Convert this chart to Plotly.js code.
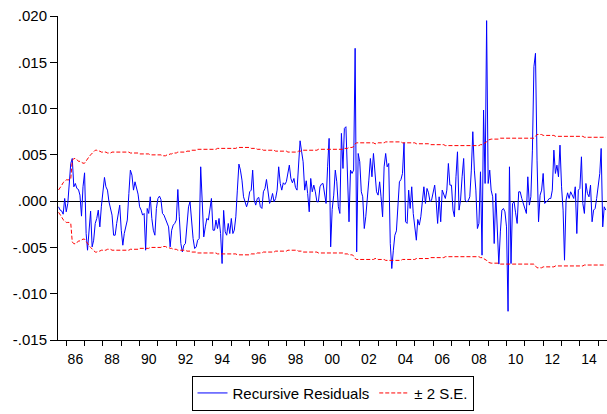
<!DOCTYPE html>
<html><head><meta charset="utf-8">
<script src="https://cdn.plot.ly/plotly-3.0.1.min.js"></script>
<style>html,body{margin:0;padding:0;background:#fff}#chart{width:607px;height:414px}</style>
</head><body><div id="chart"></div><script>
// Monthly observations starting 1985M08
const startYear = 1985, startMonth = 8;

const resid = [
-0.00061,-0.00097,-0.00105,-0.00141,0.00029,-0.00115,-0.00025,0.00191,0.00407,0.00461,
0.00155,0.00191,0.00137,0.00126,0.00065,-0.00162,0.00155,0.00306,-0.00350,-0.00530,
-0.00314,-0.00108,-0.00494,-0.00422,-0.00241,-0.00187,-0.00097,-0.00278,-0.00061,0.00119,
0.00256,0.00155,0.00119,-0.00007,-0.00079,-0.00151,-0.00368,-0.00368,-0.00241,-0.00133,
-0.00043,-0.00314,-0.00476,-0.00350,-0.00259,-0.00205,0.00083,0.00335,0.00281,0.00119,
0.00209,0.00137,0.00076,-0.00061,-0.00097,-0.00151,-0.00133,-0.00530,-0.00079,-0.00133,
0.00047,-0.00187,-0.00314,-0.00368,-0.00079,0.00029,0.00054,0.00018,-0.00133,-0.00151,
-0.00198,-0.00223,-0.00278,-0.00494,-0.00314,-0.00259,-0.00241,-0.00205,0.00126,-0.00169,
-0.00458,-0.00548,-0.00476,-0.00458,-0.00278,-0.00061,-0.00007,-0.00223,-0.00404,-0.00512,
-0.00494,-0.00422,-0.00404,0.00371,-0.00133,-0.00386,-0.00278,-0.00187,-0.00205,-0.00079,
0.00029,-0.00314,-0.00314,-0.00205,-0.00296,-0.00187,-0.00350,-0.00674,-0.00100,-0.00332,
-0.00368,-0.00241,-0.00350,-0.00187,-0.00350,-0.00314,-0.00169,0.00119,0.00400,0.00335,
0.00227,0.00047,-0.00007,-0.00061,-0.00007,0.00101,0.00119,0.00335,0.00011,-0.00043,
0.00029,0.00040,-0.00061,-0.00079,0.00101,0.00137,0.00234,0.00119,-0.00025,0.00011,
0.00083,-0.00007,0.00029,0.00119,0.00371,0.00191,0.00119,0.00198,0.00180,0.00210,
0.00299,0.00389,0.00245,0.00198,0.00245,0.00148,0.00119,0.00371,0.00652,0.00533,
0.00425,0.00119,0.00220,0.00083,-0.00115,0.00245,0.00101,0.00173,0.00101,-0.00007,
-0.00007,0.00155,0.00184,0.00191,0.00090,-0.00025,0.00371,0.00678,-0.00494,-0.00090,
0.00065,0.00335,0.00209,-0.00061,-0.00133,0.00732,0.00353,0.00786,0.00804,0.00263,
-0.00223,0.00335,0.00299,0.00335,0.01651,-0.00548,0.00515,0.00425,0.00101,0.00047,
-0.00296,-0.00169,-0.00007,0.00227,0.00461,0.00263,0.00515,0.00335,0.00101,0.00065,
0.00209,0.00047,-0.00169,0.00371,0.00515,0.00371,0.00407,-0.00458,-0.00728,-0.00530,
-0.00368,-0.00321,-0.00097,0.00209,0.00234,0.00299,0.00631,-0.00223,-0.00241,0.00119,
-0.00079,0.00155,-0.00133,-0.00314,-0.00422,-0.00198,-0.00259,-0.00169,0.00047,0.00155,
-0.00025,0.00137,0.00090,-0.00007,0.00011,0.00083,0.00173,0.00011,-0.00241,0.00047,
-0.00223,0.00119,0.00083,0.00029,0.00119,0.00407,0.00173,0.00173,-0.00097,-0.00169,
0.00263,0.00533,-0.00097,0.00011,0.00263,0.00461,0.00011,-0.00007,0.00004,0.00047,
0.00335,0.00750,0.00335,0.00119,-0.00296,-0.00241,0.00317,-0.00584,0.00984,0.00191,
0.01950,0.00191,0.00335,0.00119,0.00047,-0.00458,0.00083,-0.00241,-0.00680,-0.00332,
-0.00097,-0.00079,-0.00115,-0.00278,-0.01190,0.00371,-0.00674,-0.00025,-0.00007,-0.00126,
-0.00241,0.00101,0.00101,0.00029,-0.00018,-0.00079,-0.00133,0.00263,-0.00043,0.00047,
0.00551,0.01452,0.01597,0.00443,-0.00223,0.00065,0.00119,0.00299,-0.00025,-0.00007,
0.00004,0.00029,0.00029,0.00119,0.00551,0.00299,0.00389,0.00263,0.00605,0.00155,
-0.00097,-0.00638,0.00011,0.00090,0.00029,0.00101,0.00065,0.00029,0.00155,-0.00350,
0.00119,0.00137,0.00479,-0.00025,-0.00133,0.00191,0.00083,0.00047,0.00173,-0.00223,
-0.00097,-0.00079,0.00029,0.00155,0.00299,0.00569,-0.00278,-0.00061,-0.00097
];

// two standard errors (upper edge of the band)
const band = [
0.0012,0.0014,0.0017,0.0020,0.0022,0.0023,0.0023,0.0023,0.0024,0.0044,
0.0046,0.0046,0.0045,0.0043,0.0043,0.0042,0.0041,0.0041,0.0043,0.0046,
0.0048,0.0050,0.0052,0.0054,0.0055,0.0055,0.0054,0.0054,0.0053,0.0053,
0.0053,0.0053,0.0052,0.0052,0.0052,0.0053,0.0053,0.0053,0.0053,0.0053,
0.0053,0.0053,0.0053,0.0053,0.0053,0.0053,0.0053,0.0052,0.0052,0.0052,
0.0052,0.0052,0.0052,0.0051,0.0051,0.0051,0.0051,0.0051,0.0051,0.0051,
0.0050,0.0050,0.0050,0.0050,0.0050,0.0050,0.0050,0.0050,0.0049,0.0049,
0.0049,0.0050,0.0050,0.0051,0.0051,0.0052,0.0052,0.0052,0.0053,0.0053,
0.0053,0.0053,0.0053,0.0053,0.0054,0.0054,0.0054,0.0055,0.0055,0.0055,
0.0055,0.0056,0.0056,0.0056,0.0056,0.0056,0.0056,0.0056,0.0056,0.0056,
0.0056,0.0056,0.0056,0.0056,0.0057,0.0057,0.0057,0.0057,0.0057,0.0057,
0.0057,0.0057,0.0057,0.0057,0.0057,0.0057,0.0057,0.0058,0.0058,0.0058,
0.0058,0.0058,0.0058,0.0058,0.0058,0.0058,0.0057,0.0057,0.0057,0.0057,
0.0056,0.0056,0.0056,0.0056,0.0055,0.0055,0.0055,0.0055,0.0055,0.0055,
0.0055,0.0055,0.0054,0.0054,0.0054,0.0054,0.0054,0.0054,0.0054,0.0054,
0.0053,0.0053,0.0053,0.0053,0.0053,0.0053,0.0053,0.0054,0.0054,0.0054,
0.0055,0.0055,0.0055,0.0055,0.0055,0.0055,0.0055,0.0055,0.0055,0.0055,
0.0056,0.0056,0.0056,0.0056,0.0056,0.0056,0.0056,0.0056,0.0056,0.0056,
0.0056,0.0056,0.0056,0.0056,0.0056,0.0056,0.0056,0.0057,0.0057,0.0057,
0.0058,0.0058,0.0058,0.0059,0.0062,0.0063,0.0063,0.0063,0.0063,0.0063,
0.0063,0.0063,0.0063,0.0063,0.0063,0.0063,0.0063,0.0062,0.0062,0.0063,
0.0063,0.0063,0.0063,0.0063,0.0064,0.0064,0.0064,0.0064,0.0064,0.0064,
0.0064,0.0064,0.0064,0.0064,0.0064,0.0063,0.0063,0.0063,0.0063,0.0063,
0.0063,0.0063,0.0063,0.0063,0.0062,0.0062,0.0062,0.0062,0.0062,0.0062,
0.0062,0.0062,0.0062,0.0061,0.0061,0.0061,0.0061,0.0061,0.0061,0.0061,
0.0061,0.0061,0.0061,0.0060,0.0060,0.0060,0.0060,0.0060,0.0060,0.0060,
0.0060,0.0060,0.0060,0.0060,0.0060,0.0060,0.0060,0.0060,0.0060,0.0060,
0.0060,0.0060,0.0060,0.0060,0.0060,0.0060,0.0061,0.0061,0.0062,0.0063,
0.0064,0.0066,0.0067,0.0067,0.0067,0.0067,0.0067,0.0067,0.0067,0.0068,
0.0068,0.0068,0.0068,0.0068,0.0068,0.0068,0.0068,0.0068,0.0068,0.0068,
0.0068,0.0068,0.0068,0.0068,0.0068,0.0068,0.0068,0.0068,0.0068,0.0068,
0.0068,0.0068,0.0070,0.0072,0.0072,0.0072,0.0072,0.0071,0.0071,0.0071,
0.0071,0.0071,0.0071,0.0071,0.0071,0.0070,0.0070,0.0070,0.0070,0.0070,
0.0070,0.0070,0.0070,0.0070,0.0070,0.0070,0.0070,0.0070,0.0070,0.0070,
0.0070,0.0070,0.0070,0.0070,0.0069,0.0069,0.0069,0.0069,0.0069,0.0069,
0.0069,0.0069,0.0069,0.0069,0.0069,0.0069,0.0069,0.0069,0.0069
];

const yTickVals = [-0.015,-0.010,-0.005,0,0.005,0.010,0.015,0.020];
const yTickText = ['-.015','-.010','-.005','.000','.005','.010','.015','.020'];
const xLabelYears = [1986,1988,1990,1992,1994,1996,1998,2000,2002,2004,2006,2008,2010,2012,2014];
const xLabelText = ['86','88','90','92','94','96','98','00','02','04','06','08','10','12','14'];
const firstTickYear = 1986, lastTickYear = 2015;
const xRange = ['1985-07-21','2015-06-25'];

function monthDate(i){
  const m0 = startMonth - 1 + i;
  const y = startYear + Math.floor(m0 / 12);
  const m = (m0 % 12) + 1;
  return y + '-' + String(m).padStart(2,'0') + '-01';
}
const dates = resid.map((_, i) => monthDate(i));
const bandLower = band.map(v => -v);
const yearStarts = [];
for (let y = firstTickYear; y <= lastTickYear; y++) yearStarts.push(y + '-01-01');

const font = 'Liberation Sans, Arial, sans-serif';
const traces = [
  {x: dates, y: resid, type:'scatter', mode:'lines', name:'Recursive Residuals',
   line:{color:'#0000FF', width:1}},
  {x: dates, y: band, type:'scatter', mode:'lines', name:'± 2 S.E.',
   line:{color:'#FF0000', width:1, dash:'4px,2px'}},
  {x: dates, y: bandLower, type:'scatter', mode:'lines', name:'± 2 S.E.', showlegend:false,
   line:{color:'#FF0000', width:1, dash:'4px,2px'}}
];

const layout = {
  width:607, height:414,
  margin:{l:58, r:0, t:16, b:74, pad:0},
  paper_bgcolor:'#ffffff', plot_bgcolor:'#ffffff',
  font:{family:font, size:14, color:'#000'},
  showlegend:true,
  legend:{orientation:'h', x:0.5, xanchor:'center', yref:'container', y:0.008, yanchor:'bottom',
          bordercolor:'#000', borderwidth:1, bgcolor:'#fff', font:{family:font, size:15, color:'#000'},
          traceorder:'normal'},
  xaxis:{type:'date', range:xRange, showline:true, linecolor:'#000', linewidth:1,
         showgrid:false, zeroline:false, tickmode:'array',
         tickvals: xLabelYears.map(y => y + '-07-02'), ticktext: xLabelText,
         ticks:'outside', ticklen:6, tickcolor:'rgba(0,0,0,0)',
         tickfont:{family:font, size:14, color:'#000'},
         minor:{tickmode:'array', tickvals: yearStarts, ticks:'outside', ticklen:5, tickcolor:'#000', tickwidth:1, showgrid:false}},
  yaxis:{range:[-0.015, 0.020], showline:true, linecolor:'#000', linewidth:1,
         showgrid:false, zeroline:true, zerolinecolor:'#000', zerolinewidth:1,
         tickmode:'array', tickvals:yTickVals, ticktext:yTickText,
         ticks:'outside', ticklen:7, tickcolor:'#000', tickwidth:1,
         tickfont:{family:font, size:15, color:'#000'}}
};

Plotly.newPlot('chart', traces, layout, {displayModeBar:false, staticPlot:true});
</script></body></html>
